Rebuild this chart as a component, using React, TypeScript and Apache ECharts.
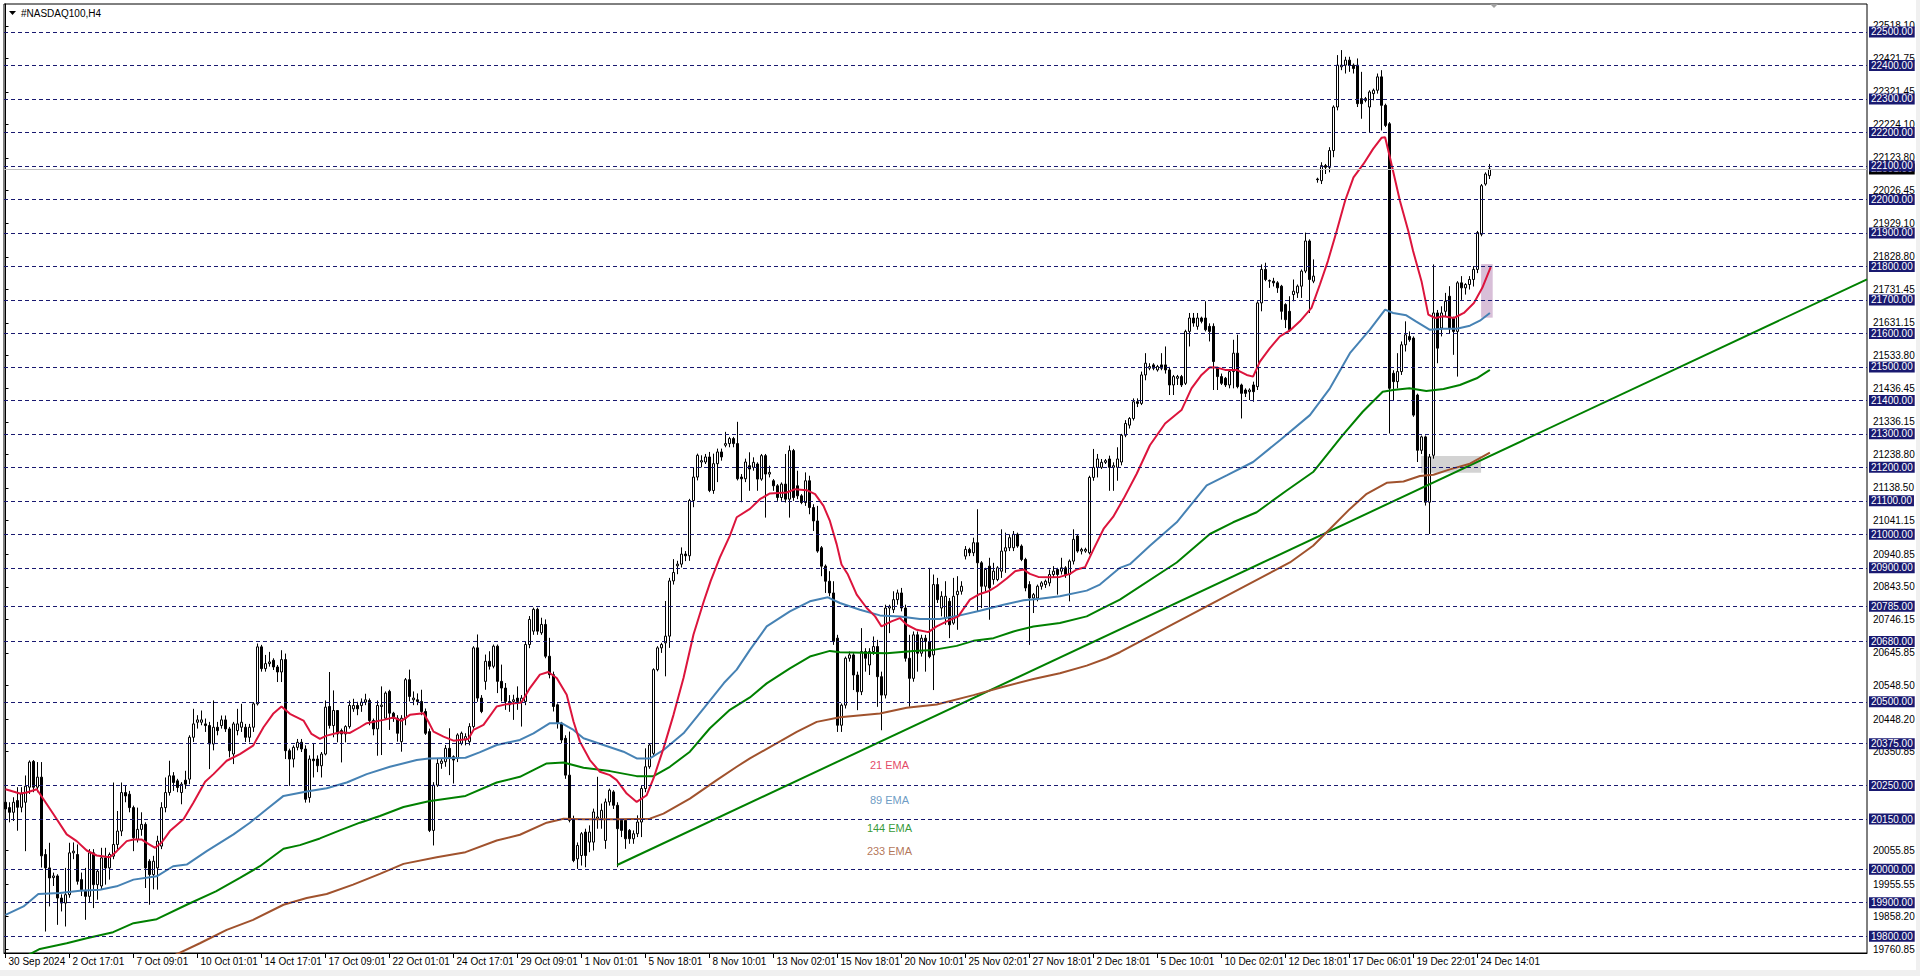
import React, { useEffect, useRef } from "react";
import * as echarts from "echarts";

const FONT = "'Liberation Sans', Arial, sans-serif";

const chartTitle = "#NASDAQ100,H4";
const timeLabels = [
  "30 Sep 2024", "2 Oct 17:01", "7 Oct 09:01", "10 Oct 01:01", "14 Oct 17:01", "17 Oct 09:01",
  "22 Oct 01:01", "24 Oct 17:01", "29 Oct 09:01", "1 Nov 01:01", "5 Nov 18:01", "8 Nov 10:01",
  "13 Nov 02:01", "15 Nov 18:01", "20 Nov 10:01", "25 Nov 02:01", "27 Nov 18:01", "2 Dec 18:01",
  "5 Dec 10:01", "10 Dec 02:01", "12 Dec 18:01", "17 Dec 06:01", "19 Dec 22:01", "24 Dec 14:01",
];
const barsPerLabel = 16;

const levels = [
  22500, 22400, 22300, 22200, 22100, 22000, 21900, 21800, 21700, 21600, 21500, 21400, 21300,
  21200, 21100, 21000, 20900, 20785, 20680, 20500, 20375, 20250, 20150, 20000, 19900, 19800,
];
const scaleLabels = [
  22518.1, 22421.75, 22321.45, 22224.1, 22123.8, 22026.45, 21929.1, 21828.8, 21731.45, 21631.15,
  21533.8, 21436.45, 21336.15, 21238.8, 21138.5, 21041.15, 20940.85, 20843.5, 20746.15, 20645.85,
  20548.5, 20448.2, 20350.85, 20055.85, 19955.55, 19858.2, 19760.85,
];

// [open, high, low, close] per H4 bar
const candles: [number, number, number, number][] = [
  [20200,20280,20150,20180],[20184,20200,20140,20170],[20170,20215,20144,20200],[20205,20245,20115,20185],
  [20185,20245,20170,20225],[20200,20280,20054,20248],[20245,20325,20225,20320],[20322,20326,20230,20245],
  [20245,20320,20230,20275],[20275,20320,20005,20040],[20044,20060,19814,20004],[20004,20079,19889,19974],
  [19975,19990,19950,19980],[19980,19985,19834,19914],[19914,19925,19874,19899],[19899,20004,19829,19924],
  [19924,20079,19915,20049],[20049,20080,20030,20054],[20044,20074,19954,19964],[19969,19990,19920,19939],
  [19934,20004,19849,19919],[19919,20060,19900,20049],[20049,20060,19884,19954],[19954,20000,19909,19994],
  [19950,20064,19940,20034],[20034,20064,19954,20004],[20004,20050,19969,20044],[20039,20259,20030,20074],
  [20074,20174,20060,20114],[20114,20259,20099,20229],[20229,20250,20200,20219],[20224,20234,20170,20184],
  [20184,20190,20054,20094],[20089,20184,20080,20119],[20119,20170,20100,20134],[20134,20140,19944,20004],
  [20024,20030,19894,19984],[19984,20040,19940,20024],[20004,20100,19939,20084],[20069,20200,20060,20184],
  [20184,20274,20170,20229],[20229,20324,20220,20279],[20279,20290,20234,20259],[20264,20270,20230,20244],
  [20229,20260,20194,20254],[20266,20294,20240,20254],[20269,20400,20254,20394],[20394,20479,20380,20434],
  [20439,20460,20420,20446],[20439,20474,20430,20446],[20434,20450,20410,20429],[20429,20440,20299,20374],
  [20374,20504,20355,20424],[20424,20440,20400,20414],[20429,20459,20420,20446],[20446,20459,20410,20419],
  [20419,20425,20334,20354],[20344,20440,20314,20434],[20414,20479,20400,20434],[20424,20494,20410,20439],
  [20424,20434,20380,20394],[20394,20434,20379,20424],[20424,20499,20410,20494],[20494,20674,20489,20664],
  [20664,20670,20590,20599],[20599,20640,20590,20614],[20614,20649,20605,20619],[20624,20630,20595,20604],
  [20604,20610,20559,20589],[20589,20654,20559,20626],[20626,20644,20329,20354],[20354,20360,20249,20329],
  [20329,20370,20304,20364],[20364,20389,20355,20379],[20379,20389,20350,20359],[20359,20370,20199,20209],
  [20214,20340,20199,20329],[20329,20374,20274,20324],[20329,20340,20290,20309],[20309,20350,20274,20344],
  [20344,20504,20340,20484],[20486,20589,20420,20429],[20429,20534,20394,20474],[20474,20474,20379,20404],
  [20414,20420,20319,20404],[20404,20430,20379,20426],[20426,20504,20420,20489],[20479,20509,20470,20489],
  [20489,20500,20460,20479],[20489,20510,20470,20499],[20499,20524,20490,20506],[20504,20510,20430,20444],
  [20444,20450,20400,20419],[20419,20504,20339,20489],[20486,20546,20341,20490],[20451,20531,20446,20526],
  [20531,20536,20416,20466],[20466,20470,20440,20451],[20451,20460,20381,20406],[20381,20460,20351,20451],
  [20451,20571,20430,20566],[20566,20596,20501,20516],[20506,20531,20490,20511],[20506,20525,20490,20501],
  [20501,20536,20460,20471],[20471,20480,20401,20406],[20411,20420,20111,20116],[20116,20260,20071,20251],
  [20251,20330,20246,20316],[20316,20330,20300,20323],[20321,20371,20306,20361],[20361,20421,20281,20331],
  [20336,20340,20256,20326],[20331,20406,20320,20401],[20376,20411,20370,20406],[20386,20406,20370,20396],
  [20381,20436,20370,20426],[20426,20666,20420,20661],[20661,20701,20500,20511],[20511,20520,20466,20471],
  [20561,20641,20536,20621],[20621,20651,20596,20606],[20606,20671,20600,20666],[20666,20671,20526,20561],
  [20561,20611,20501,20541],[20541,20556,20476,20501],[20491,20520,20470,20501],[20501,20521,20446,20506],
  [20511,20546,20476,20501],[20501,20520,20426,20511],[20501,20681,20490,20671],[20671,20756,20660,20746],
  [20711,20781,20700,20776],[20776,20781,20700,20711],[20706,20751,20700,20731],[20731,20746,20630,20636],
  [20636,20691,20570,20581],[20581,20590,20471,20486],[20491,20495,20420,20436],[20436,20440,20376,20386],
  [20391,20400,20270,20281],[20281,20411,20140,20146],[20151,20160,20021,20026],[20031,20080,20001,20071],
  [20041,20111,20011,20106],[20111,20121,20006,20041],[20081,20131,20051,20111],[20081,20181,20056,20171],
  [20151,20276,20121,20156],[20151,20196,20121,20176],[20086,20211,20061,20201],[20201,20241,20190,20236],
  [20231,20236,20180,20191],[20191,20200,20006,20121],[20146,20150,20096,20116],[20146,20150,20061,20091],
  [20116,20120,20076,20091],[20091,20116,20076,20106],[20106,20161,20096,20141],[20141,20250,20096,20241],
  [20241,20361,20230,20306],[20306,20376,20300,20371],[20346,20600,20340,20596],[20596,20666,20591,20661],
  [20661,20676,20646,20671],[20676,20801,20576,20696],[20696,20870,20661,20861],[20861,20926,20850,20886],
  [20906,20921,20881,20911],[20911,20961,20901,20941],[20941,20950,20920,20936],[20936,21106,20921,21101],
  [21101,21201,21081,21171],[21171,21241,21161,21236],[21216,21236,21200,21220],[21216,21240,21210,21231],
  [21231,21246,21126,21131],[21131,21241,21121,21211],[21211,21256,21156,21246],[21246,21256,21220,21231],
  [21266,21306,21260,21271],[21271,21291,21260,21286],[21286,21291,21260,21271],[21271,21336,21161,21166],
  [21171,21180,21096,21166],[21166,21226,21156,21216],[21205,21245,21130,21195],[21200,21230,21190,21215],
  [21210,21215,21130,21165],[21165,21240,21160,21235],[21235,21240,21050,21180],[21180,21205,21170,21185],
  [21160,21165,21130,21145],[21145,21150,21100,21110],[21110,21155,21100,21150],[21150,21240,21095,21105],
  [21105,21265,21050,21250],[21250,21255,21100,21110],[21145,21190,21105,21115],[21115,21120,21090,21095],
  [21095,21185,21085,21160],[21160,21175,21060,21080],[21080,21090,21010,21040],[21040,21085,20945,20950],
  [20960,20965,20875,20905],[20905,20910,20825,20860],[20860,20890,20815,20825],[20825,20860,20670,20680],
  [20690,20700,20410,20430],[20430,20495,20410,20490],[20490,20635,20480,20630],[20630,20650,20620,20640],
  [20640,20645,20535,20580],[20580,20590,20475,20530],[20530,20720,20520,20650],[20650,20660,20590,20630],
  [20610,20660,20580,20650],[20650,20695,20640,20665],[20665,20685,20485,20575],[20575,20590,20415,20520],
  [20520,20790,20510,20780],[20780,20790,20705,20785],[20775,20830,20765,20805],[20805,20835,20790,20825],
  [20825,20840,20770,20780],[20780,20790,20620,20630],[20630,20700,20485,20570],[20570,20710,20560,20700],
  [20700,20710,20590,20645],[20645,20700,20635,20690],[20690,20700,20590,20680],[20680,20900,20630,20635],
  [20640,20880,20535,20850],[20850,20870,20795,20805],[20780,20830,20755,20815],[20750,20860,20730,20815],
  [20800,20810,20690,20730],[20735,20870,20730,20815],[20820,20875,20715,20830],[20830,20860,20820,20845],
  [20935,20965,20925,20955],[20955,20960,20935,20945],[20945,20990,20935,20975],[20975,21075,20770,20915],
  [20915,20920,20780,20845],[20845,20900,20830,20895],[20905,20930,20745,20840],[20865,20915,20850,20890],
  [20865,20905,20860,20900],[20890,21015,20870,20950],[20950,21005,20885,20960],[20960,21000,20950,20990],
  [20960,21010,20950,21000],[21000,21005,20960,20965],[20965,20970,20920,20925],[20925,20930,20830,20840],
  [20850,20860,20670,20810],[20810,20825,20765,20820],[20810,20850,20800,20845],[20845,20860,20835,20855],
  [20850,20865,20840,20860],[20855,20895,20845,20880],[20880,20905,20870,20890],[20895,20900,20820,20880],
  [20890,20930,20880,20900],[20900,20905,20870,20880],[20880,20925,20800,20920],[20920,21015,20910,20985],
  [20995,21000,20945,20950],[20950,20960,20940,20955],[20950,20960,20945,20955],[20945,21175,20940,21170],
  [21170,21255,21160,21200],[21200,21240,21170,21225],[21200,21225,21195,21215],[21215,21225,21210,21220],
  [21225,21235,21130,21200],[21200,21215,21130,21205],[21200,21260,21160,21225],[21216,21300,21206,21296],
  [21296,21341,21290,21331],[21326,21350,21316,21346],[21346,21406,21340,21396],[21396,21406,21380,21391],
  [21391,21486,21386,21476],[21476,21541,21460,21511],[21496,21511,21490,21501],[21506,21511,21490,21496],
  [21491,21506,21486,21501],[21506,21541,21490,21496],[21506,21561,21480,21491],[21491,21500,21416,21446],
  [21446,21476,21416,21471],[21466,21476,21446,21471],[21471,21476,21440,21446],[21451,21611,21446,21606],
  [21606,21661,21561,21646],[21646,21661,21620,21631],[21621,21661,21611,21646],[21646,21650,21630,21636],
  [21646,21696,21606,21611],[21621,21630,21576,21606],[21621,21630,21431,21516],[21496,21500,21431,21471],
  [21471,21480,21446,21451],[21466,21470,21440,21446],[21446,21491,21436,21486],[21486,21581,21436,21541],
  [21541,21596,21436,21441],[21446,21450,21346,21421],[21431,21436,21410,21421],[21426,21436,21401,21431],
  [21446,21456,21396,21426],[21441,21696,21431,21691],[21691,21806,21666,21791],[21791,21811,21756,21761],
  [21756,21761,21736,21758],[21756,21766,21740,21751],[21751,21756,21721,21736],[21741,21745,21641,21666],
  [21686,21690,21616,21641],[21666,21711,21605,21611],[21716,21761,21696,21726],[21721,21746,21706,21741],
  [21741,21791,21706,21786],[21786,21901,21780,21876],[21876,21881,21661,21761],[21756,21821,21750,21771],
  [22061,22065,22050,22059],[22056,22111,22046,22101],[22101,22106,22076,22096],[22096,22156,22081,22146],
  [22146,22281,22126,22276],[22276,22431,22266,22401],[22396,22446,22386,22401],[22401,22426,22376,22416],
  [22416,22426,22381,22401],[22401,22406,22376,22391],[22401,22421,22276,22286],[22301,22381,22241,22286],
  [22301,22306,22290,22296],[22276,22326,22201,22321],[22316,22331,22296,22326],[22326,22376,22316,22366],
  [22366,22386,22206,22281],[22281,22286,22216,22221],[22226,22231,21301,21436],[21481,21490,21400,21456],
  [21456,21541,21436,21486],[21486,21576,21476,21566],[21566,21636,21546,21596],[21591,21606,21575,21581],
  [21586,21591,21351,21356],[21416,21420,21216,21251],[21251,21295,21240,21291],[21291,21295,21086,21096],
  [21096,21240,21001,21231],[21236,21806,21226,21661],[21661,21670,21511,21556],[21616,21681,21591,21661],
  [21666,21721,21650,21696],[21711,21741,21600,21616],[21646,21650,21536,21606],[21606,21756,21471,21751],
  [21751,21771,21700,21736],[21736,21750,21716,21746],[21746,21771,21731,21761],[21761,21801,21740,21791],
  [21791,21906,21780,21901],[21896,22046,21890,22041],[22046,22081,22041,22076],[22071,22106,22061,22091],
];

// Moving averages as [bar, price]
const ema21: [number, number][] = [
  [0,20239],[3.6,20226],[5.3,20229],[7.8,20239],[9.5,20209],[12,20164],[15.3,20104],[17.8,20084],[20.3,20056],
  [22.8,20041],[26.1,20036],[27.8,20054],[30.3,20084],[32,20089],[34,20089],[35.7,20076],[37.4,20064],[39,20079],
  [41.1,20114],[44.5,20149],[47,20199],[49.9,20261],[52,20284],[55.3,20324],[58.6,20344],[61.9,20369],[64.5,20424],
  [66.9,20464],[69,20486],[71.1,20464],[74.5,20444],[76.5,20404],[78.6,20389],[80.3,20399],[83.6,20409],[86.1,20407],
  [88.6,20424],[90.3,20436],[94.5,20446],[97,20453],[99,20443],[101.1,20461],[104.5,20466],[105.7,20441],[107,20411],
  [109.5,20396],[112,20384],[115.7,20389],[117,20416],[119.5,20431],[122.8,20486],[125.3,20493],[129,20498],
  [131.1,20541],[133.6,20581],[135.7,20589],[137.8,20571],[140.3,20521],[142,20441],[143.6,20381],[146.1,20326],
  [148.6,20291],[151.1,20281],[152.8,20266],[155.3,20226],[157.8,20201],[160.3,20221],[162,20271],[164.5,20361],
  [167,20461],[169.5,20571],[172,20701],[174.6,20801],[176.3,20861],[178.6,20931],[181.1,20996],[182.8,21051],
  [186.1,21076],[188.6,21105],[191.1,21122],[195.3,21125],[197.4,21135],[200.3,21132],[202.4,21120],[204.5,21085],
  [206.1,21040],[207.8,20970],[209,20910],[210.6,20880],[212.8,20820],[215.3,20780],[217.4,20755],[219,20725],
  [221.5,20740],[223.6,20750],[225.3,20730],[227.8,20715],[230.7,20708],[232.8,20725],[235.3,20740],[238.2,20755],
  [241.1,20805],[243.6,20822],[245.7,20830],[247.8,20845],[250.3,20868],[252.4,20890],[254.5,20895],[256.1,20882],
  [258.2,20873],[261.1,20872],[263.6,20873],[266.1,20882],[267.8,20895],[269.9,20902],[272,20955],[274.6,21018],
  [276.9,21052],[279.5,21106],[282.8,21181],[286.1,21266],[289.9,21331],[294,21371],[296.5,21436],[299,21476],
  [301.1,21499],[302.8,21498],[304.9,21491],[307.8,21491],[310.3,21476],[311.9,21471],[313.6,21516],[316.1,21556],
  [318.6,21591],[321.1,21609],[323.6,21636],[326.5,21676],[328.6,21746],[330.6,21816],[332.8,21906],[334.9,21996],
  [337,22066],[339.5,22106],[341.9,22151],[344,22184],[344.9,22186],[346.1,22126],[348.6,21996],[350.7,21906],
  [351.9,21846],[354,21756],[355.7,21656],[357.4,21646],[359.5,21651],[362.1,21646],[364.6,21661],[367.1,21691],
  [369.2,21736],[371.3,21798],
];
const ema89: [number, number][] = [
  [0,19864],[4.5,19889],[8.2,19926],[13.6,19929],[18.6,19936],[23.6,19939],[27.8,19949],[32,19969],[37.8,19979],
  [41.9,20009],[45.3,20014],[50.3,20054],[57,20104],[61.1,20139],[65.3,20179],[69.5,20219],[75.3,20232],[80.3,20242],
  [85.3,20259],[90.3,20284],[96.1,20306],[102.8,20326],[105.8,20331],[115,20333],[118.5,20349],[122.8,20371],
  [128.6,20386],[132,20406],[136.1,20436],[139,20436],[142,20416],[144.5,20391],[149.5,20371],[154.5,20351],
  [157.8,20331],[161.1,20331],[164.5,20356],[169.5,20406],[174.6,20481],[179.6,20556],[182.8,20596],[186.1,20655],
  [190.3,20725],[196.1,20770],[201.1,20800],[205.6,20812],[208.6,20795],[213.6,20775],[218.6,20758],[223.6,20755],
  [228.6,20747],[233.6,20747],[238.6,20758],[243.6,20772],[249.5,20790],[254.5,20803],[258.6,20808],[263.6,20815],
  [270.3,20832],[273.6,20850],[278.6,20900],[281.1,20911],[286.1,20966],[292.8,21036],[300.3,21146],[305.3,21176],
  [311.9,21216],[318.6,21281],[326.1,21356],[331.1,21436],[336.1,21541],[341.1,21611],[344.9,21671],[346.9,21661],
  [350.2,21654],[352.6,21636],[356,21611],[359.5,21614],[362.8,21614],[366.1,21623],[368.6,21638],[371.1,21661],
];
const ema144: [number, number][] = [
  [5.7,19744],[8.6,19762],[15.3,19779],[20.3,19794],[26.9,19812],[32,19839],[37.8,19851],[45.3,19894],[52.6,19934],
  [58.6,19974],[63.6,20009],[69.5,20061],[73.6,20072],[78.6,20092],[83.6,20116],[88.6,20139],[93.6,20159],
  [99.5,20186],[105.8,20203],[115,20219],[122.8,20259],[128.6,20276],[135.3,20316],[139.5,20319],[144.5,20303],
  [151.1,20293],[157.8,20278],[162,20278],[166.1,20306],[171.1,20351],[176.1,20421],[181.1,20476],[186.1,20513],
  [190.3,20555],[196.1,20600],[201.1,20635],[206.1,20652],[208.6,20648],[220.3,20645],[227,20652],[232,20655],
  [237.8,20667],[242,20682],[247,20690],[252,20710],[257,20725],[263.6,20735],[270.3,20755],[273.6,20775],
  [278.6,20805],[292.8,20916],[301.1,21001],[306.9,21036],[312.8,21066],[320.3,21131],[326.9,21186],[334.3,21296],
  [339.3,21366],[344.3,21426],[346.9,21431],[351,21436],[355.2,21428],[359.5,21434],[363.6,21446],[367.8,21466],
  [371.1,21491],
];
const ema233: [number, number][] = [
  [42.4,19744],[48.6,19779],[55.3,19819],[61.9,19849],[69.5,19894],[75.3,19914],[80.3,19926],[86.9,19954],
  [93.6,19986],[99.5,20016],[107.8,20036],[115,20051],[122.8,20086],[128.6,20103],[135.3,20139],[139.5,20151],
  [144.5,20149],[152.8,20149],[161.1,20151],[164.5,20166],[171.1,20211],[177.8,20266],[182.8,20306],[186.1,20331],
  [197.8,20410],[202.8,20440],[208.6,20454],[218.6,20465],[225.3,20482],[232.8,20492],[242,20520],[249.5,20545],
  [257,20568],[263.6,20585],[270.3,20608],[275.3,20630],[278.6,20648],[321.1,20916],[326.9,20966],[331.1,21016],
  [336.1,21076],[340.3,21121],[345.3,21154],[349.5,21158],[353.6,21174],[357,21178],[361.1,21194],[366.1,21211],
  [371.1,21244],
];

const trendLine: [number, number][] = [[152.9, 20012.7], [465.375, 21761.6]];
const pinkBox: [number, number][] = [[368.9, 21807], [371.8, 21647]];
const grayBox: [number, number][] = [[353.9, 21234], [368.9, 21184]];

const emaTags = [
  { name: "21 EMA", bar: 221, price: 20311, color: "#dc143c" },
  { name: "89 EMA", bar: 221, price: 20207, color: "#4682b4" },
  { name: "144 EMA", bar: 221, price: 20122, color: "#008000" },
  { name: "233 EMA", bar: 221, price: 20055, color: "#a0522d" },
];

const X_MIN = -0.375;
const X_MAX = 465.375;
const Y_MIN = 19749.9;
const Y_MAX = 22583.6;

export default function App() {
  const ref = useRef<HTMLDivElement>(null);
  useEffect(() => {
    if (!ref.current) return;
    const chart = echarts.init(ref.current, undefined, { renderer: "svg" });
    const lastClose = candles[candles.length - 1][3];
    const emaLine = (name: string, data: [number, number][], color: string) => ({
      name,
      type: "line",
      data,
      showSymbol: false,
      symbol: "none",
      smooth: false,
      z: 4,
      lineStyle: { color, width: 2 },
      silent: true,
    });
    chart.setOption({
      animation: false,
      backgroundColor: "#ffffff",
      textStyle: { fontFamily: FONT },
      grid: {
        left: 4, top: 4, width: 1863, height: 949, show: true,
        borderColor: "#000", borderWidth: 1, backgroundColor: "#fff",
      },
      xAxis: {
        type: "value", min: X_MIN, max: X_MAX,
        splitLine: { show: false },
        axisLine: { show: true, lineStyle: { color: "#000", width: 1 } },
        axisTick: {
          show: true, length: 5, inside: false, lineStyle: { color: "#000" },
          customValues: timeLabels.map((_, i) => i * barsPerLabel),
        },
        axisLabel: {
          customValues: timeLabels.map((_, i) => i * barsPerLabel),
          formatter: (v: number) => timeLabels[Math.round(v / barsPerLabel)] ?? "",
          align: "left", margin: 3, padding: [0, 0, 0, 3],
          color: "#000", fontSize: 10, fontFamily: FONT,
        },
      },
      yAxis: {
        type: "value", position: "right", min: Y_MIN, max: Y_MAX, scale: true,
        splitLine: { show: false },
        axisLine: { show: true, lineStyle: { color: "#000", width: 1 } },
        axisTick: {
          show: true, length: 3, inside: false, lineStyle: { color: "#000" },
          customValues: scaleLabels,
        },
        axisLabel: {
          customValues: scaleLabels,
          formatter: (v: number) => v.toFixed(2),
          margin: 6, color: "#000", fontSize: 10, fontFamily: FONT,
        },
      },
      graphic: [
        { type: "polygon", shape: { points: [[9, 11], [16, 11], [12.5, 15]] }, style: { fill: "#000" } },
        { type: "text", x: 21, y: 13.5, style: { text: chartTitle, fill: "#000", font: `10px ${FONT}`, textVerticalAlign: "middle" } },
        { type: "polygon", shape: { points: [[1490, 4], [1498, 4], [1494, 8]] }, style: { fill: "#a0a0a0" } },
        { type: "rect", shape: { x: 0, y: 970, width: 1920, height: 6 }, style: { fill: "#f0f0f0" } },
        { type: "rect", shape: { x: 1916, y: 0, width: 4, height: 976 }, style: { fill: "#f0f0f0" } },
      ],
      series: [
        {
          name: "boxes", type: "line", data: [], z: 1, silent: true,
          markArea: {
            silent: true,
            data: [
              [{ coord: pinkBox[0], itemStyle: { color: "#d8bfd8" } }, { coord: pinkBox[1] }],
              [{ coord: grayBox[0], itemStyle: { color: "#d3d3d3" } }, { coord: grayBox[1] }],
            ],
          },
        },
        {
          name: "levelLines", type: "line", data: [], z: 1, silent: true,
          markLine: {
            silent: true, symbol: "none", animation: false,
            lineStyle: { color: "#191970", width: 1, type: [4, 3] },
            label: { show: false },
            data: levels.map((v) => ({ yAxis: v })),
          },
        },
        {
          name: "priceLine", type: "line", data: [], z: 2, silent: true,
          markLine: {
            silent: true, symbol: "none", animation: false,
            lineStyle: { color: "#c0c0c0", width: 1, type: "solid" },
            label: {
              show: true, position: "end", distance: 2, formatter: () => lastClose.toFixed(2),
              backgroundColor: "#000", color: "#fff", padding: [0, 2], fontSize: 10, lineHeight: 11, fontFamily: FONT,
            },
            data: [{ yAxis: lastClose }],
          },
        },
        {
          name: "NASDAQ100", type: "candlestick", z: 3, barWidth: 2,
          data: candles.map((c, i) => [i, c[0], c[3], c[2], c[1]]),
          encode: { x: 0, y: [1, 2, 3, 4] },
          itemStyle: { color: "#ffffff", color0: "#000000", borderColor: "#000000", borderColor0: "#000000", borderWidth: 1 },
        },
        {
          name: "trend", type: "line", data: trendLine, showSymbol: false, symbol: "none", z: 4,
          lineStyle: { color: "#008000", width: 2 }, silent: true,
        },
        emaLine("EMA233", ema233, "#a0522d"),
        emaLine("EMA144", ema144, "#008000"),
        emaLine("EMA89", ema89, "#4682b4"),
        emaLine("EMA21", ema21, "#dc143c"),
        {
          name: "tags", type: "scatter", z: 6, symbolSize: 1, silent: true,
          data: emaTags.map((t) => ({
            name: t.name, value: [t.bar, t.price], itemStyle: { color: "rgba(0,0,0,0)" },
            label: { show: true, position: "inside", formatter: t.name, color: t.color, fontSize: 11, fontFamily: FONT },
          })),
        },
        {
          name: "levelLabels", type: "line", data: [], z: 10, silent: true,
          markLine: {
            silent: true, symbol: "none", animation: false,
            lineStyle: { color: "rgba(0,0,0,0)", width: 0 },
            label: {
              show: true, position: "end", distance: 2,
              formatter: (p: any) => Number(p.value).toFixed(2),
              backgroundColor: "#191970", color: "#ffffff", padding: [0, 2], fontSize: 10, lineHeight: 11, fontFamily: FONT,
            },
            data: levels.map((v) => ({ yAxis: v })),
          },
        },
      ],
    });
    return () => chart.dispose();
  }, []);
  return (
    <div
      ref={ref}
      style={{ position: "fixed", left: 0, top: 0, width: 1920, height: 976, background: "#fff" }}
    />
  );
}
